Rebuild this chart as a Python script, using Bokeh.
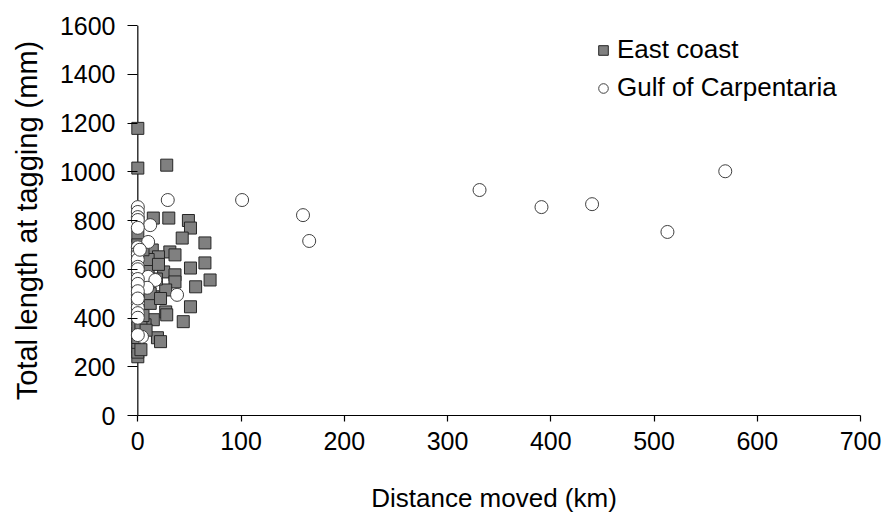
from bokeh.plotting import figure
from bokeh.models import Range1d, FixedTicker, Legend, LegendItem, Span
from bokeh.embed import file_html
from bokeh.resources import INLINE

# Tagging data: distance moved (km) vs total length at tagging (mm)
east_x = [0, 0, 28, 15, 30, 49, 51, 0, 43, 65, 14, 31, 36, 20, 65, 51, 25, 70, 36, 36,
          56, 27, 15, 51, 27, 28, 44, 15, 7, 19, 22, 0, 0, 0, 0, 0, 0, 0, 0, 0,
          0, 0, 0, 0, 0, 0, 3, 5, 5, 8, 10, 10, 12, 12, 18, 20, 22, 5, 8, 3]
east_y = [1178, 1015, 1027, 810, 810, 800, 769, 735, 728, 708, 679, 671, 659, 651, 626, 605, 589, 556, 577, 548,
          528, 515, 487, 446, 425, 413, 385, 393, 372, 319, 303, 282, 241, 340, 393, 260, 300, 320, 360, 430,
          460, 520, 560, 600, 640, 700, 380, 410, 470, 540, 600, 640, 460, 500, 560, 620, 480, 680, 350, 270]

gulf_x = [29, 101, 160, 166, 331, 391, 440, 513, 569,
          0, 0, 0, 0, 12, 0, 10, 0, 0, 0, 0, 0, 0, 10, 17, 0, 9, 0, 38, 0,
          0, 0, 0, 0, 4, 0, 0, 0, 0, 2, 0, 0]
gulf_y = [884, 884, 822, 716, 925, 855, 867, 753, 1002,
          855, 835, 814, 802, 781, 770, 712, 690, 671, 660, 640, 610, 585, 569, 556, 528, 524, 495, 495, 474,
          460, 442, 420, 401, 323, 330, 600, 560, 540, 680, 510, 480]

x_ticks = [0, 100, 200, 300, 400, 500, 600, 700]
y_ticks = [0, 200, 400, 600, 800, 1000, 1200, 1400, 1600]

FONT = "Liberation Sans"

# x range starts a little below zero so markers sitting on the axis stay whole
p = figure(width=884, height=515, output_backend="svg", toolbar_location=None,
           x_range=Range1d(-10, 700), y_range=Range1d(0, 1600),
           min_border_left=127, min_border_right=24, min_border_top=25, min_border_bottom=99)
p.outline_line_color = None
p.xgrid.visible = False
p.ygrid.visible = False

east = p.scatter(east_x, east_y, marker="square", size=12,
                 fill_color="#808080", line_color="#262626", line_width=1)
gulf = p.scatter(gulf_x, gulf_y, marker="circle", size=13,
                 fill_color="white", line_color="#404040", line_width=1)

for ax in (p.xaxis[0], p.yaxis[0]):
    ax.axis_line_color = "black"
    ax.axis_line_width = 1.2
    ax.major_tick_line_color = "black"
    ax.major_tick_line_width = 1.2
    ax.minor_tick_line_color = None
    ax.major_label_text_font = FONT
    ax.major_label_text_font_size = "25px"
    ax.major_label_text_color = "black"
    ax.axis_label_text_font = FONT
    ax.axis_label_text_font_style = "normal"
    ax.axis_label_text_color = "black"

p.xaxis.ticker = FixedTicker(ticks=x_ticks)
p.xaxis.bounds = (0, 700)
p.xaxis.major_tick_in = 0
p.xaxis.major_tick_out = 6
p.xaxis.major_label_standoff = 10
p.xaxis.axis_label = "Distance moved (km)"
p.xaxis.axis_label_text_font_size = "26px"
p.xaxis.axis_label_standoff = 30

# vertical axis line sits at x = 0; ticks reach from the frame edge to it
p.yaxis.ticker = FixedTicker(ticks=y_ticks)
p.yaxis.axis_line_color = None
p.yaxis.major_tick_in = 10
p.yaxis.major_tick_out = 0
p.yaxis.major_label_standoff = 12
p.yaxis.axis_label = "Total length at tagging (mm)"
p.yaxis.axis_label_text_font_size = "29px"
p.yaxis.axis_label_standoff = 14
p.add_layout(Span(location=0, dimension="height", line_color="black", line_width=1.2, level="underlay"))

legend = Legend(items=[LegendItem(label="East coast", renderers=[east]),
                       LegendItem(label="Gulf of Carpentaria", renderers=[gulf])],
                location=(464, 312), padding=0, margin=0, spacing=7,
                glyph_width=24, glyph_height=24, label_standoff=2,
                label_text_font=FONT, label_text_font_size="26px", label_text_color="black",
                border_line_color=None, background_fill_alpha=0)
p.add_layout(legend)

open("out.html", "w").write(file_html(p, INLINE))
